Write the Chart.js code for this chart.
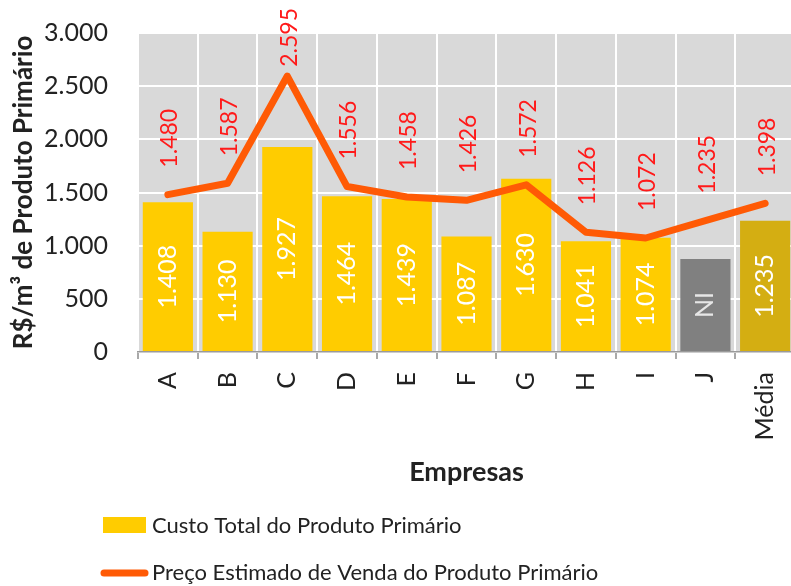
<!DOCTYPE html>
<html><head><meta charset="utf-8">
<script src="https://cdn.jsdelivr.net/npm/chart.js@4.4.1/dist/chart.umd.min.js"></script>
<style>html,body{margin:0;padding:0;background:#fff;overflow:hidden;}canvas{display:block;}</style>
</head><body>
<canvas id="c" width="800" height="586"></canvas>
<script>
// ---- data ----
const categories = ['A','B','C','D','E','F','G','H','I','J','Média'];
const custoTotal = [1408, 1130, 1927, 1464, 1439, 1087, 1630, 1041, 1074, 875, 1235];
const custoLabels = ['1.408','1.130','1.927','1.464','1.439','1.087','1.630','1.041','1.074','NI','1.235'];
const precoVenda = [1480, 1587, 2595, 1556, 1458, 1426, 1572, 1126, 1072, 1235, 1398];
const precoLabels = ['1.480','1.587','2.595','1.556','1.458','1.426','1.572','1.126','1.072','1.235','1.398'];
const seriesNames = ['Custo Total do Produto Primário', 'Preço Estimado de Venda do Produto Primário'];
const yAxisTitle = 'R$/m³ de Produto Primário';
const xAxisTitle = 'Empresas';

// ---- styles ----
const FONT = 'Lato, "Open Sans", sans-serif';
const barColors = categories.map(c => c === 'J' ? '#808080' : (c === 'Média' ? '#d4ae12' : '#ffcc00'));
const lineColor = '#ff5a05';
const labelRed = '#ff1a1a';
const textColor = '#222222';

function fmt(v){ return String(v).replace(/\B(?=(\d{3})+(?!\d))/g, '.'); }

const plotBg = {
  id: 'plotBg',
  beforeDraw(chart){
    const {ctx, chartArea: a} = chart;
    ctx.save();
    ctx.fillStyle = '#d9d9d9';
    ctx.fillRect(a.left, a.top, a.right - a.left, a.bottom - a.top);
    ctx.restore();
  }
};

const valueLabels = {
  id: 'valueLabels',
  afterDatasetsDraw(chart){
    const ctx = chart.ctx;
    const barMeta = chart.getDatasetMeta(0);
    const lineMeta = chart.getDatasetMeta(1);
    ctx.save();
    ctx.textBaseline = 'middle';
    ctx.textAlign = 'center';
    ctx.font = '25px ' + FONT;
    barMeta.data.forEach((bar, i) => {
      const cy = (bar.y + bar.base) / 2;
      ctx.save();
      ctx.translate(bar.x, cy);
      ctx.rotate(-Math.PI / 2);
      ctx.fillStyle = custoLabels[i] === 'NI' ? '#e6e6e6' : '#ffffff';
      ctx.fillText(custoLabels[i], 0, 0);
      ctx.restore();
    });
    ctx.font = '23px ' + FONT;
    ctx.textAlign = 'left';
    lineMeta.data.forEach((pt, i) => {
      const txt = precoLabels[i];
      const w = ctx.measureText(txt).width;
      let bottom = pt.y - 27;
      if (bottom - w < 8) bottom = 8 + w;
      ctx.save();
      ctx.translate(pt.x + 2, bottom);
      ctx.rotate(-Math.PI / 2);
      ctx.fillStyle = labelRed;
      ctx.fillText(txt, 0, 0);
      ctx.restore();
    });
    ctx.restore();
  }
};

const customLegend = {
  id: 'customLegend',
  afterDraw(chart){
    const ctx = chart.ctx;
    const ds = chart.data.datasets;
    ctx.save();
    ctx.font = '22px ' + FONT;
    ctx.textBaseline = 'middle';
    ctx.textAlign = 'left';
    ctx.fillStyle = '#ffcc00';
    ctx.fillRect(103, 517, 43, 16);
    ctx.fillStyle = textColor;
    ctx.fillText(ds[0].label, 152, 526);
    ctx.strokeStyle = ds[1].borderColor;
    ctx.lineWidth = 7;
    ctx.lineCap = 'round';
    ctx.beginPath();
    ctx.moveTo(104, 573);
    ctx.lineTo(145, 573);
    ctx.stroke();
    ctx.fillText(ds[1].label, 152, 573);
    ctx.restore();
  }
};

new Chart(document.getElementById('c'), {
  type: 'bar',
  data: {
    labels: categories,
    datasets: [
      {
        type: 'bar',
        label: seriesNames[0],
        data: custoTotal,
        backgroundColor: barColors,
        borderWidth: 0,
        categoryPercentage: 1,
        barPercentage: 0.84,
        order: 2
      },
      {
        type: 'line',
        label: seriesNames[1],
        data: precoVenda,
        borderColor: lineColor,
        backgroundColor: lineColor,
        borderWidth: 7,
        borderCapStyle: 'round',
        borderJoinStyle: 'round',
        pointRadius: 0,
        tension: 0,
        fill: false,
        order: 1
      }
    ]
  },
  options: {
    responsive: false,
    animation: false,
    devicePixelRatio: 1,
    layout: { padding: { left: 0, right: 5, top: 33, bottom: 100 } },
    plugins: {
      legend: { display: false },
      tooltip: { enabled: false }
    },
    scales: {
      x: {
        offset: true,
        grid: { color: '#ffffff', lineWidth: 2, tickColor: '#8c8c8c', tickLength: 7, tickWidth: 1.5, offset: true },
        border: { display: true, color: '#9a9a9a', width: 1.5 },
        ticks: {
          color: textColor,
          font: { family: FONT, size: 25 },
          minRotation: 90, maxRotation: 90,
          padding: 13,
          autoSkip: false
        },
        title: {
          display: true, text: xAxisTitle, color: textColor,
          font: { family: FONT, size: 27, weight: 'bold', lineHeight: 1 },
          padding: 0
        },
        afterFit(scale){ scale.height = 134; scale.paddingLeft = 0; scale.paddingRight = 0; }
      },
      y: {
        min: 0, max: 3000,
        grid: { color: '#ffffff', lineWidth: 2, drawTicks: false },
        border: { display: false },
        ticks: {
          stepSize: 500,
          color: textColor,
          font: { family: FONT, size: 25 },
          padding: 30,
          callback: (v) => fmt(v)
        },
        title: {
          display: true, text: yAxisTitle, color: textColor,
          font: { family: FONT, size: 26, weight: 'bold', lineHeight: 1 },
          padding: { top: 11, bottom: 0 }
        },
        afterFit(scale){ scale.width = 138; scale.paddingTop = 0; scale.paddingBottom = 0; }
      }
    }
  },
  plugins: [plotBg, valueLabels, customLegend]
});
</script>
</body></html>
